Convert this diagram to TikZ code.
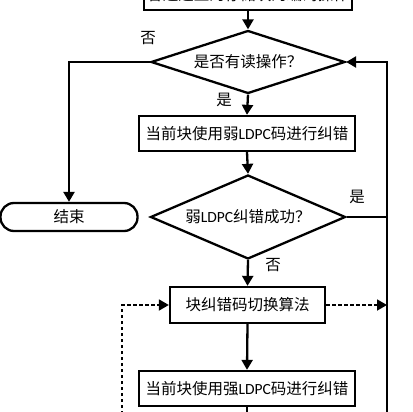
\documentclass[tikz,border=0pt]{standalone}
\usepackage{fontspec}
\setmainfont{Carlito}
\newfontfamily\cjk{Noto Sans CJK SC}
\usetikzlibrary{shapes.geometric,arrows.meta,calc}
\begin{document}
\begin{tikzpicture}[x=1pt,y=-1pt,
  every node/.style={font=\fontsize{15.5}{17}\selectfont\cjk, inner sep=0pt},
  box/.style={draw, line width=2.3pt, rectangle, minimum height=35pt},
  dia/.style={draw, line width=2.3pt, diamond},
  term/.style={draw, line width=2.3pt, rectangle, rounded corners=13.5pt, minimum width=137pt, minimum height=28pt},
  conn/.style={line width=2.3pt},
  arr/.style={conn, -{Triangle[length=10pt,width=11pt]}},
  dsh/.style={line width=1.8pt, dash pattern=on 3.5pt off 2.5pt},
  darr/.style={dsh, -{Triangle[length=10pt,width=11pt]}},
  lbl/.style={font=\fontsize{15.5}{17}\selectfont\cjk}
]
\clip (0,0) rectangle (412,412);
\fill[white] (0,0) rectangle (412,412);

\node[box, minimum width=208pt, minimum height=30pt] (top) at (248,-5) {各通道上的存储块的编码操作};
\node[dia, minimum width=194pt, minimum height=63pt, aspect=3.08] (d1) at (248,62) {是否有读操作？};
\node[box, minimum width=216pt] (b2) at (247,133.5) {当前块使用弱{\fontspec{Carlito}LDPC}码进行纠错};
\node[dia, minimum width=195pt, minimum height=84pt, aspect=2.32] (d2) at (248,217) {弱{\fontspec{Carlito}LDPC}纠错成功？};
\node[term] (end) at (69,217) {结束};
\node[box, minimum width=155pt, minimum height=36pt] (b3) at (247.5,305) {块纠错码切换算法};
\node[box, minimum width=216pt] (b4) at (247,388.5) {当前块使用强{\fontspec{Carlito}LDPC}码进行纠错};

\coordinate (R) at (387,420);
\coordinate (L) at (122,420);
\coordinate (B) at (247,420);

\draw[arr] (top.south) -- (d1.north);
\draw[arr] (d1.west) -| (end.north);
\draw[arr] (d1.south) -- (b2.north);
\draw[arr] (b2.south) -- (d2.north);
\draw[arr] (d2.south) -- (b3.north);
\draw[arr] (b3.south) -- (b4.north);
\draw[conn] (b4.south) -- (B);
\draw[arr] (R) |- (d1.east);
\draw[conn] (d2.east) -- (d2.east -| R);
\draw[darr] (L) |- (b3.west);
\draw[darr] (b3.east) -- (b3.east -| R);

\node[lbl] (n1) at (148,38) {否};
\node[lbl] (y1) at (224,100) {是};
\node[lbl] (y2) at (357,197) {是};
\node[lbl] (n2) at (273,265) {否};
\end{tikzpicture}
\end{document}
